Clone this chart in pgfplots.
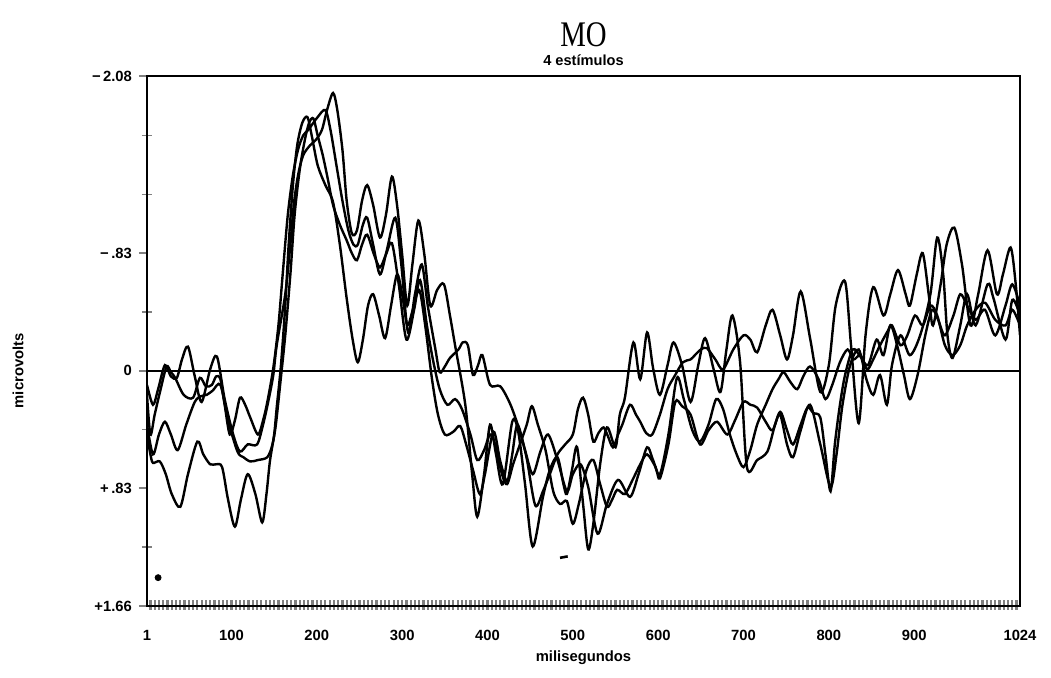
\documentclass[border=0pt]{standalone}
\usepackage{fontspec}
\setmainfont{Liberation Sans}
\newfontfamily\seriffont{Liberation Serif}
\usepackage{graphicx}
\usepackage{pgfplots}
\pgfplotsset{compat=1.18}
\pgfplotsset{eeg/.style={black, no markers, line width=1.2pt, smooth, tension=0.5}}

\begin{document}
\begin{tikzpicture}
\begin{axis}[
  scale only axis, width=436.5pt, height=265pt,
  xmin=1, xmax=1024, ymin=-2.08, ymax=1.66,
  y dir=reverse,
  axis line style={line width=1.3pt},
  tick align=outside,
  major tick length=4pt, minor tick length=5pt,
  xtick pos=left,
  ytick pos=left,
  xtick={1,100,200,300,400,500,600,700,800,900,1024},
  xticklabels={1,100,200,300,400,500,600,700,800,900,1024},
  minor xtick={5,10,...,1020},
  major x tick style={draw=none},
  minor x tick style={line width=1.1pt, yshift=3pt},
  ytick={-2.08,-0.83,0,0.83,1.66},
  yticklabels={−\,2.08,−\,.83,0,+\,.83,+1.66},
  minor ytick={-1.66,-1.245,-0.415,0.415,1.245},
  minor y tick style={line width=0.8pt, xshift=2.5pt},
  major y tick style={line width=1pt},
  every tick label/.append style={font=\fontsize{7.4}{8}\selectfont\bfseries},
  xticklabel style={anchor=center, yshift=-10.5pt},
  clip=true,
]
\coordinate (BL) at (axis cs:1,1.66);
\coordinate (TR) at (axis cs:1024,-2.08);
\coordinate (TC) at (axis cs:512.5,-2.08);
\coordinate (BC) at (axis cs:512.5,1.66);
\coordinate (LZ) at (axis cs:1,0);
\draw[line width=1pt] (axis cs:1,0) -- (axis cs:1024,0);

% series 1
\addplot[eeg] coordinates {(1,0.10)(8,0.24)(14,0.13)(22,-0.04)(29,0.04)(36,0.05)(42,-0.08)(49,-0.17)(57,0.04)(65,0.22)(75,-0.01)(83,-0.10)(92,0.20)(102,0.45)(110,0.57)(119,0.52)(130,0.52)(137,0.38)(143,0.22)(149,0.03)(153,-0.18)(163,-0.54)(169,-0.89)(173,-1.17)(178,-1.38)(184,-1.52)(192,-1.59)(199,-1.63)(206,-1.70)(212,-1.84)(219,-1.96)(224,-1.84)(230,-1.56)(235,-1.20)(241,-0.97)(247,-0.99)(253,-1.20)(259,-1.31)(266,-1.17)(274,-0.94)(281,-1.10)(288,-1.37)(294,-1.17)(300,-0.82)(306,-0.46)(312,-0.75)(319,-1.06)(326,-0.82)(333,-0.46)(341,-0.57)(349,-0.61)(356,-0.39)(362,-0.18)(374,0.24)(382,0.73)(388,1.03)(396,0.73)(403,0.38)(410,0.59)(418,0.80)(429,0.36)(436,0.43)(444,0.80)(453,1.24)(465,0.89)(473,0.70)(482,0.61)(489,0.80)(493,0.87)(499,0.70)(505,0.54)(512,0.94)(518,1.26)(524,1.08)(532,0.66)(540,0.40)(550,0.54)(555,0.31)(561,0.19)(571,-0.20)(579,0.06)(587,-0.27)(594,-0.02)(602,0.17)(611,-0.04)(618,-0.20)(628,-0.04)(638,0.22)(647,-0.04)(655,-0.23)(665,-0.01)(673,0.15)(680,-0.15)(687,-0.39)(696,-0.06)(704,0.68)(716,0.63)(728,0.57)(737,0.38)(743,0.31)(751,0.52)(758,0.61)(767,0.42)(778,0.24)(790,0.52)(802,0.82)(809,0.59)(816,0.24)(825,-0.04)(835,-0.15)(844,0.06)(852,0.17)(860,0.03)(868,0.24)(874,-0.04)(884,-0.25)(895,-0.11)(907,-0.25)(919,-0.54)(927,-0.94)(934,-0.68)(939,-0.25)(945,-0.09)(954,-0.32)(962,-0.54)(972,-0.32)(986,-0.61)(993,-0.51)(1007,-0.22)(1015,-0.50)(1024,-0.39)};

% series 2
\addplot[eeg] coordinates {(1,0.17)(5,0.45)(10,0.31)(17,0.13)(24,-0.03)(29,0.01)(34,0.05)(44,0.17)(55,0.19)(63,0.05)(70,0.11)(77,0.10)(82,0.04)(87,0.06)(92,0.24)(98,0.45)(104,0.35)(110,0.19)(116,0.24)(122,0.33)(131,0.45)(137,0.35)(142,0.22)(149,-0.02)(155,-0.32)(160,-0.68)(166,-1.10)(172,-1.38)(178,-1.56)(184,-1.66)(190,-1.70)(196,-1.75)(201,-1.79)(210,-1.84)(216,-1.70)(223,-1.45)(230,-1.20)(237,-0.99)(243,-0.89)(248,-0.89)(254,-1.03)(259,-1.08)(266,-0.89)(274,-0.68)(282,-0.85)(292,-1.08)(299,-0.75)(307,-0.27)(315,-0.54)(323,-0.75)(330,-0.46)(339,-0.15)(344,0.01)(350,-0.03)(356,-0.09)(366,-0.15)(371,-0.20)(377,-0.18)(383,0.03)(389,-0.04)(394,-0.11)(403,0.10)(415,0.11)(427,0.24)(438,0.43)(446,0.62)(456,0.95)(465,0.85)(473,0.73)(482,0.59)(491,0.52)(500,0.45)(506,0.27)(512,0.19)(518,0.31)(524,0.50)(530,0.44)(536,0.40)(541,0.46)(547,0.54)(553,0.45)(558,0.38)(567,0.24)(574,0.31)(579,0.36)(586,0.44)(593,0.45)(602,0.31)(611,0.13)(620,0.03)(629,-0.06)(638,-0.08)(643,-0.11)(650,-0.15)(657,-0.16)(667,-0.08)(676,-0.01)(688,-0.15)(700,-0.25)(708,-0.22)(716,-0.13)(726,-0.32)(734,-0.43)(743,-0.25)(751,-0.08)(758,-0.25)(767,-0.56)(778,-0.23)(790,0.15)(800,-0.04)(808,-0.46)(819,-0.63)(826,-0.18)(835,0.37)(843,-0.25)(852,-0.59)(864,-0.39)(872,-0.54)(881,-0.71)(890,-0.54)(895,-0.46)(903,-0.68)(910,-0.83)(917,-0.54)(922,-0.32)(931,-0.61)(938,-0.89)(947,-1.01)(956,-0.75)(966,-0.32)(975,-0.54)(986,-0.85)(997,-0.54)(1004,-0.68)(1013,-0.87)(1019,-0.61)(1024,-0.25)};

% series 3
\addplot[eeg] coordinates {(1,0.38)(8,0.59)(15,0.45)(22,0.36)(29,0.45)(37,0.56)(47,0.38)(57,0.22)(64,0.18)(71,0.17)(78,0.14)(87,0.10)(96,0.35)(107,0.57)(114,0.61)(122,0.64)(131,0.63)(142,0.61)(148,0.52)(152,0.38)(157,0.10)(163,-0.25)(169,-0.68)(174,-1.10)(180,-1.42)(186,-1.63)(191,-1.75)(196,-1.78)(201,-1.66)(207,-1.52)(213,-1.35)(219,-1.17)(227,-1.03)(235,-0.92)(241,-0.83)(247,-0.78)(253,-0.89)(259,-0.96)(267,-0.82)(274,-0.73)(281,-0.82)(288,-0.90)(296,-0.61)(305,-0.22)(314,-0.43)(321,-0.64)(329,-0.32)(336,-0.08)(344,0.13)(353,0.24)(362,0.20)(370,0.27)(380,0.45)(388,0.63)(396,0.56)(403,0.45)(409,0.52)(417,0.73)(423,0.80)(430,0.66)(438,0.52)(446,0.38)(452,0.25)(459,0.38)(468,0.56)(477,0.85)(485,0.94)(493,0.92)(500,1.08)(507,0.94)(516,0.70)(524,0.63)(532,0.80)(540,0.96)(546,0.91)(552,0.84)(561,0.87)(570,0.77)(579,0.66)(587,0.59)(597,0.68)(602,0.76)(612,0.52)(620,0.22)(628,0.25)(638,0.31)(649,0.52)(659,0.42)(669,0.36)(681,0.45)(690,0.35)(700,0.22)(708,0.24)(716,0.26)(726,0.36)(734,0.42)(743,0.29)(751,0.42)(758,0.52)(767,0.38)(775,0.26)(782,0.30)(790,0.33)(796,0.59)(802,0.85)(807,0.52)(813,0.24)(819,0.03)(828,-0.15)(837,-0.10)(846,-0.04)(856,-0.22)(864,-0.11)(872,-0.32)(880,-0.18)(888,0.03)(895,0.20)(904,0.03)(913,-0.25)(921,-0.43)(928,-0.36)(936,-0.25)(946,-0.39)(954,-0.54)(962,-0.46)(972,-0.36)(983,-0.43)(995,-0.25)(1007,-0.46)(1015,-0.61)(1024,-0.46)};

% series 4
\addplot[eeg] coordinates {(1,0.45)(5,0.59)(8,0.65)(16,0.64)(23,0.73)(30,0.87)(40,0.96)(49,0.73)(60,0.50)(67,0.59)(75,0.66)(82,0.66)(89,0.68)(96,0.91)(104,1.10)(111,0.91)(119,0.73)(128,0.87)(136,1.07)(141,0.87)(145,0.64)(150,0.45)(153,0.26)(158,-0.04)(163,-0.46)(167,-0.89)(172,-1.31)(177,-1.59)(183,-1.75)(189,-1.79)(194,-1.66)(201,-1.45)(210,-1.31)(219,-1.19)(227,-0.89)(235,-0.51)(242,-0.22)(248,-0.06)(254,-0.22)(260,-0.46)(266,-0.54)(273,-0.39)(280,-0.23)(287,-0.46)(294,-0.68)(300,-0.54)(306,-0.32)(312,-0.42)(320,-0.57)(327,-0.32)(335,0.06)(342,0.31)(350,0.45)(360,0.43)(368,0.39)(375,0.52)(383,0.70)(391,0.87)(397,0.73)(407,0.43)(415,0.64)(423,0.78)(429,0.59)(435,0.38)(444,0.56)(453,0.73)(462,0.57)(471,0.45)(482,0.63)(493,0.85)(500,0.73)(509,0.66)(518,0.82)(529,1.15)(540,0.94)(553,0.77)(567,0.89)(577,0.73)(587,0.54)(594,0.63)(602,0.73)(612,0.45)(622,0.05)(630,0.20)(640,0.42)(649,0.50)(659,0.38)(668,0.20)(676,0.27)(684,0.45)(692,0.59)(700,0.68)(708,0.56)(716,0.38)(726,0.24)(734,0.13)(741,0.06)(747,0.01)(755,0.08)(763,0.13)(770,0.04)(778,-0.03)(788,0.06)(796,0.20)(804,0.10)(813,-0.06)(822,-0.15)(829,-0.08)(837,-0.11)(845,-0.01)(852,-0.08)(860,-0.18)(869,-0.28)(874,-0.32)(884,-0.18)(892,-0.25)(901,-0.39)(910,-0.32)(919,-0.46)(927,-0.39)(936,-0.18)(945,-0.11)(954,-0.18)(962,-0.32)(972,-0.43)(983,-0.48)(995,-0.36)(1007,-0.32)(1015,-0.43)(1024,-0.32)};

% stray marks on the original plot
\addplot[black, only marks, mark=*, mark size=1.5pt] coordinates {(14,1.46)};
\addplot[black, sharp plot, no markers, line width=1.3pt] coordinates {(485,1.32)(494,1.31)};
\end{axis}
\node[font=\seriffont\fontsize{18}{18}\selectfont, anchor=base, inner sep=0pt, yshift=14.5pt] at (TC) {\scalebox{0.8}[1]{MO}};
\node[font=\fontsize{7.3}{8}\selectfont\bfseries, anchor=base, inner sep=0pt, yshift=5pt] at (TC) {4 estímulos};
\node[font=\fontsize{7.4}{8}\selectfont\bfseries, anchor=center, yshift=-26pt] at (BC) {milisegundos};
\node[font=\fontsize{7.4}{8}\selectfont\bfseries, anchor=center, rotate=90] at ([xshift=-64.5pt]LZ) {microvolts};
\pgfresetboundingbox
\path[use as bounding box] ([xshift=-73.5pt,yshift=-36pt]BL) rectangle ([xshift=15.5pt,yshift=38pt]TR);
\end{tikzpicture}
\end{document}
